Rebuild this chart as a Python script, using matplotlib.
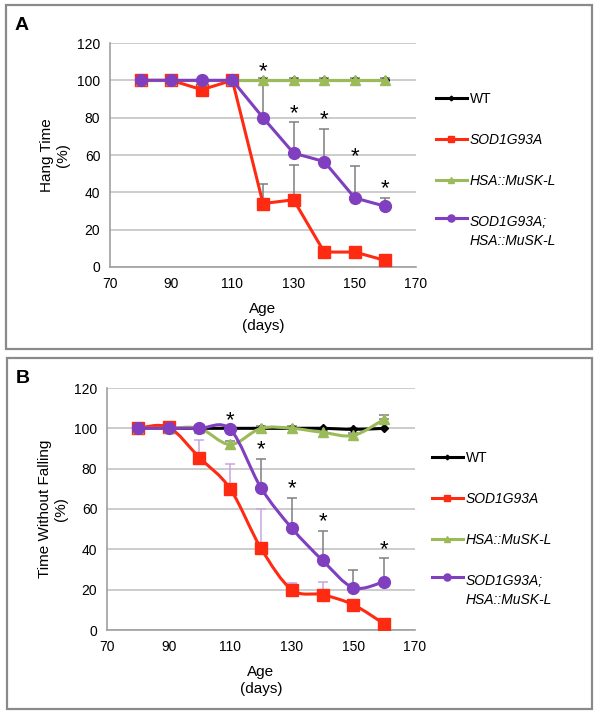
import numpy as np
import matplotlib
matplotlib.use("Agg")
import matplotlib.pyplot as plt
from matplotlib.path import Path
from matplotlib.patches import PathPatch, Rectangle
from matplotlib.lines import Line2D
from matplotlib.legend_handler import HandlerLine2D

plt.rcParams['font.family'] = ['Liberation Sans', 'DejaVu Sans']

# ---------------- data ----------------
ages = [80, 90, 100, 110, 120, 130, 140, 150, 160]
series_names = ["WT", "SOD1G93A", "HSA::MuSK-L", "SOD1G93A;\nHSA::MuSK-L"]

# Panel A: Hang Time (%)
wt_a = [100, 100, 100, 100, 100, 100, 100, 100, 100]
wt_a_err = [0, 0, 0, 0, 0, 0, 0, 0, 0]
sod_a = [100, 100, 95, 100, 34, 36, 8, 8, 3.5]
sod_a_err = [0, 0, 0, 0, 10.5, 18.5, 2.5, 2.5, 0]
hsa_a = [100, 100, 100, 100, 100, 100, 100, 100, 100]
hsa_a_err = [0, 0, 0, 0, 1, 1, 1, 1, 1]
dbl_a = [100, 100, 100, 100, 80, 61, 56.5, 37, 32.5]
dbl_a_err = [0, 0, 0, 0, 20, 16.5, 17.5, 17, 4.5]
stars_a = [120, 130, 140, 150, 160]

# Panel B: Time Without Falling (%)
wt_b = [100, 100, 100, 100, 100, 100, 100, 99.5, 100]
wt_b_err = [0, 0, 0, 0, 0, 0, 0, 0.8, 0]
sod_b = [100, 100.5, 85.5, 70, 40.5, 20, 17.5, 12.5, 3]
sod_b_err = [0, 0, 8.5, 12.5, 19.5, 3.5, 6.5, 2.5, 0]
hsa_b = [100, 100, 100, 92, 100, 100, 98, 96.5, 104.5]
hsa_b_err = [0, 0, 0, 1.5, 1, 1, 1, 1, 2]
dbl_b = [100, 100, 100, 99.5, 70.5, 50.5, 34.5, 21, 24]
dbl_b_err = [0, 0, 0, 0, 14.5, 15, 14.5, 9, 11.5]
stars_b = [110, 120, 130, 140, 160]

x_ticks = [70, 90, 110, 130, 150, 170]
y_ticks = [0, 20, 40, 60, 80, 100, 120]

# ---------------- style ----------------
C_WT = "#000000"
C_SOD = "#ff2a12"
C_HSA = "#9bbb59"
C_DBL = "#7f3fbf"
C_ERR = "#7f7f7f"
C_ERR_LAV = "#c7a5df"
C_GRID = "#c8c8c8"

W, H = 602, 717
fig = plt.figure(figsize=(W / 100, H / 100), dpi=100)


class RaisedHandler(HandlerLine2D):
    """Legend handle aligned with the first line of a two-line label."""
    def __init__(self, shift, **kw):
        super().__init__(**kw)
        self.shift = shift

    def create_artists(self, legend, orig_handle, xdescent, ydescent, width,
                       height, fontsize, trans):
        return super().create_artists(legend, orig_handle, xdescent,
                                      ydescent - 2 * self.shift, width, height,
                                      fontsize, trans)


def px_rect(left, top, right, bottom):
    return [left / W, 1 - bottom / H, (right - left) / W, (bottom - top) / H]


def smooth_path(xs, ys):
    xs = np.asarray(xs, float)
    ys = np.asarray(ys, float)
    n = len(xs)
    verts = [(xs[0], ys[0])]
    codes = [Path.MOVETO]
    for i in range(n - 1):
        i0 = max(i - 1, 0)
        i3 = min(i + 2, n - 1)
        c1 = (xs[i] + (xs[i + 1] - xs[i0]) / 6, ys[i] + (ys[i + 1] - ys[i0]) / 6)
        c2 = (xs[i + 1] - (xs[i3] - xs[i]) / 6, ys[i + 1] - (ys[i3] - ys[i]) / 6)
        verts += [c1, c2, (xs[i + 1], ys[i + 1])]
        codes += [Path.CURVE4] * 3
    return Path(verts, codes)


def panel(rect, box, letter, ylabel, data, stars, smooth, sod_err_color,
          leg_anchor, ylabelpad):
    # outer frame
    fig.patches.append(Rectangle((box[0] / W, 1 - box[3] / H),
                                 (box[2] - box[0]) / W, (box[3] - box[1]) / H,
                                 transform=fig.transFigure, fill=False,
                                 edgecolor="#8a8a8a", lw=1.6))
    fig.text((box[0] + 9) / W, 1 - (box[1] + 25) / H, letter,
             fontsize=14, fontweight="bold", ha="left", va="baseline")

    ax = fig.add_axes(px_rect(*rect))
    ax.set_xlim(70, 170)
    ax.set_ylim(0, 120)
    ax.set_xticks(x_ticks)
    ax.set_yticks(y_ticks)
    ax.tick_params(length=0, labelsize=10, pad=7)
    for s in ["top", "right"]:
        ax.spines[s].set_visible(False)
    for s in ["left", "bottom"]:
        ax.spines[s].set_color("#a0a0a0")
        ax.spines[s].set_linewidth(1.2)
    ax.yaxis.grid(True, color=C_GRID, lw=1.3)
    ax.set_axisbelow(True)
    ax.set_ylabel(ylabel + "\n(%)", fontsize=11, linespacing=1.2,
                  labelpad=ylabelpad)
    ax.set_xlabel("Age\n(days)", fontsize=11, linespacing=1.3, labelpad=8)

    styles = [
        (C_WT, "D", 4, C_ERR),
        (C_SOD, "s", 8, sod_err_color),
        (C_HSA, "^", 7, C_ERR),
        (C_DBL, "o", 8.5, C_ERR),
    ]
    for (vals, errs), (col, mk, ms, ecol) in zip(data, styles):
        errs = np.asarray(errs, float)
        mask = errs > 0
        if mask.any():
            ax.errorbar(np.asarray(ages)[mask], np.asarray(vals)[mask],
                        yerr=[np.zeros(mask.sum()), errs[mask]],
                        fmt="none", ecolor=ecol, elinewidth=1.1, capsize=3.5,
                        capthick=1.1, zorder=2)
        if smooth:
            ax.add_patch(PathPatch(smooth_path(ages, vals), facecolor="none",
                                   edgecolor=col, lw=2.2, zorder=3,
                                   capstyle="round", joinstyle="round"))
            ax.plot(ages, vals, ls="none", marker=mk, ms=ms, color=col,
                    zorder=3)
        else:
            ax.plot(ages, vals, ls="-", lw=2.2, marker=mk, ms=ms, color=col,
                    zorder=3)

    dvals, derrs = data[3]
    for sx in stars:
        i = ages.index(sx)
        top = dvals[i] + derrs[i]
        ax.annotate("*", (sx, top), xytext=(0, -1), textcoords="offset points",
                    ha="center", va="bottom", fontsize=16, zorder=5)

    handles = [Line2D([], [], color=c, marker=m, ms=ms * 0.6, lw=2.2)
               for (c, m, ms, _) in styles]
    leg = fig.legend(handles, series_names, loc="upper left",
                     bbox_to_anchor=(leg_anchor[0] / W, 1 - leg_anchor[1] / H),
                     bbox_transform=fig.transFigure, frameon=False,
                     fontsize=10, handlelength=2.2, handletextpad=0.25,
                     labelspacing=1.95, borderpad=0, borderaxespad=0,
                     handler_map={handles[3]: RaisedHandler(10)})
    for i, t in enumerate(leg.get_texts()):
        t.set_linespacing(1.45)
        if i > 0:
            t.set_fontstyle("italic")
    return ax


panel((110, 43, 416, 267), (6, 5, 592, 349), "A", "Hang Time",
      [(wt_a, wt_a_err), (sod_a, sod_a_err), (hsa_a, hsa_a_err),
       (dbl_a, dbl_a_err)],
      stars_a, False, C_ERR, (436, 92), 5)

panel((107, 388, 415, 630), (7, 358, 592, 709), "B", "Time Without Falling",
      [(wt_b, wt_b_err), (sod_b, sod_b_err), (hsa_b, hsa_b_err),
       (dbl_b, dbl_b_err)],
      stars_b, True, C_ERR_LAV, (432, 451), 4)

fig.savefig("out.png", dpi=100)
